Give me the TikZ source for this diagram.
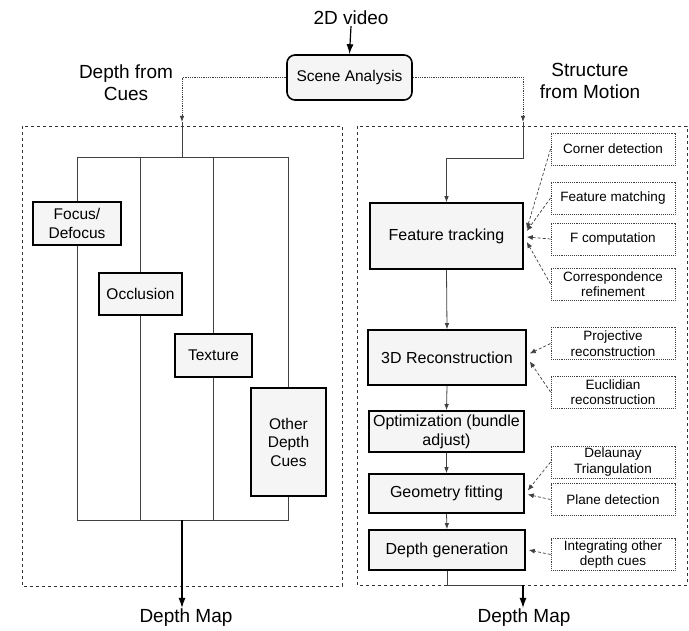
\documentclass[tikz,border=0pt]{standalone}
\usepackage{fontspec}
\setmainfont{Liberation Sans}
\usetikzlibrary{arrows.meta}

\begin{document}
\begin{tikzpicture}[x=1pt,y=-1pt,
  mainbox/.style={draw,line width=1.6pt,fill=black!4,align=center,inner sep=0pt,font=\fontsize{16}{19}\selectfont},
  cuebox/.style={mainbox,font=\fontsize{15.5}{18.5}\selectfont},
  sidebox/.style={draw=black!75,densely dotted,line width=0.9pt,fill=white,align=center,inner sep=0pt,minimum width=124pt,minimum height=32pt,font=\fontsize{13.5}{15.5}\selectfont},
  title/.style={align=center,inner sep=1pt,font=\fontsize{19}{22}\selectfont},
  flow/.style={draw=black!75,line width=0.8pt},
  smalltip/.style={-{Latex[length=6pt,width=4.5pt]}},
  bigtip/.style={line width=1.2pt,-{Latex[length=10pt,width=7pt]}},
  sidearrow/.style={draw=black!75,line width=0.7pt,densely dashed,-{Latex[length=6pt,width=5pt]}},
  panel/.style={draw=black!80,dashed,line width=0.8pt}]
\useasboundingbox (0,0) rectangle (689,631);
\draw[panel] (22,126) rectangle (342,586);
\draw[panel] (357,126) rectangle (687,585);
\draw (351,18) node[title] (vid) {2D video};
\draw (349.5,77.5) node[mainbox,rounded corners=8pt,minimum width=125pt,minimum height=45pt,font=\fontsize{15.5}{18}\selectfont] (sa) {Scene Analysis};
\draw (126,83) node[title] (dfc) {Depth from\\Cues};
\draw (590,81) node[title] (sfm) {Structure\\from Motion};
\draw[bigtip] (vid.south) -- (sa.north);
\draw (77,223.5) node[cuebox,minimum width=88pt,minimum height=43pt] (fd) {Focus/\\Defocus};
\draw (140.5,294) node[cuebox,minimum width=83pt,minimum height=42pt] (oc) {Occlusion};
\draw (213.5,355.5) node[cuebox,minimum width=77pt,minimum height=43pt] (tx) {Texture};
\draw (288.5,442) node[cuebox,minimum width=75pt,minimum height=108pt] (odc) {Other\\Depth\\Cues};
\coordinate (lin) at (182,122);
\coordinate (ltop) at (182,157);
\coordinate (lbot) at (182,520);
\draw[flow,densely dotted,smalltip] (sa.west) -| (lin);
\draw[flow] (lin) -- (ltop);
\draw[flow] (fd.north |- ltop) -- (odc.north |- ltop);
\draw[flow] (fd.south |- lbot) -- (odc.south |- lbot);
\foreach \b in {fd,oc,tx,odc}
  \draw[flow] (\b.north |- ltop) -- (\b.north) (\b.south) -- (\b.south |- lbot);
\draw (186,618) node[title] (dm1) {Depth Map};
\draw[bigtip] (lbot) -- (lbot |- dm1.north);
\draw (446.5,236) node[mainbox,minimum width=153pt,minimum height=66pt] (ft) {Feature tracking};
\draw (447,357.5) node[mainbox,minimum width=158pt,minimum height=55pt] (rec) {3D Reconstruction};
\draw (446.5,431.5) node[mainbox,minimum width=155pt,minimum height=41pt] (opt) {Optimization (bundle\\adjust)};
\draw (446.5,493.5) node[mainbox,minimum width=155pt,minimum height=39pt] (gf) {Geometry fitting};
\draw (447,550) node[mainbox,minimum width=156pt,minimum height=40pt] (dg) {Depth generation};
\draw (613,149) node[sidebox] (cd) {Corner detection};
\draw (613,198) node[sidebox] (fm) {Feature matching};
\draw (613,239) node[sidebox] (fc) {F computation};
\draw (613,284) node[sidebox] (cr) {Correspondence\\refinement};
\draw (613,343.5) node[sidebox] (pr) {Projective\\reconstruction};
\draw (613,392) node[sidebox] (er) {Euclidian\\reconstruction};
\draw (613,462) node[sidebox] (dt) {Delaunay\\Triangulation};
\draw (613,499.5) node[sidebox] (pd) {Plane detection};
\draw (613,554.5) node[sidebox] (io) {Integrating other\\depth cues};
\coordinate (rin) at (523,122);
\coordinate (rturn) at (523,158);
\coordinate (rbot) at (523,585);
\draw[flow,densely dotted,smalltip] (sa.east) -| (rin);
\draw[flow,smalltip] (rin) -- (rturn) -| (ft.north);
\draw[flow,smalltip] (ft.south) -- (rec.north);
\draw[flow,smalltip] (rec.south) -- (opt.north);
\draw[flow,smalltip] (opt.south) -- (gf.north);
\draw[flow,smalltip] (gf.south) -- (dg.north);
\draw (524,618) node[title] (dm2) {Depth Map};
\draw[flow] (dg.south) |- (rbot);
\draw[bigtip] (rbot) -- (rbot |- dm2.north);
\draw[sidearrow] (cd.west) -- ([xshift=3pt,yshift=7pt]ft.east);
\draw[sidearrow] (fm.west) -- ([xshift=3pt,yshift=5pt]ft.east);
\draw[sidearrow] (fc.west) -- ([xshift=3pt,yshift=-1pt]ft.east);
\draw[sidearrow] (cr.west) -- ([xshift=3pt,yshift=-6pt]ft.east);
\draw[sidearrow] (pr.west) -- ([xshift=3pt,yshift=4pt]rec.east);
\draw[sidearrow] (er.west) -- ([xshift=3pt,yshift=-4pt]rec.east);
\draw[sidearrow] (dt.west) -- ([xshift=3pt,yshift=3pt]gf.east);
\draw[sidearrow] (pd.west) -- ([xshift=3pt,yshift=-1pt]gf.east);
\draw[sidearrow] (io.west) -- ([xshift=3pt]dg.east);
\end{tikzpicture}
\end{document}
